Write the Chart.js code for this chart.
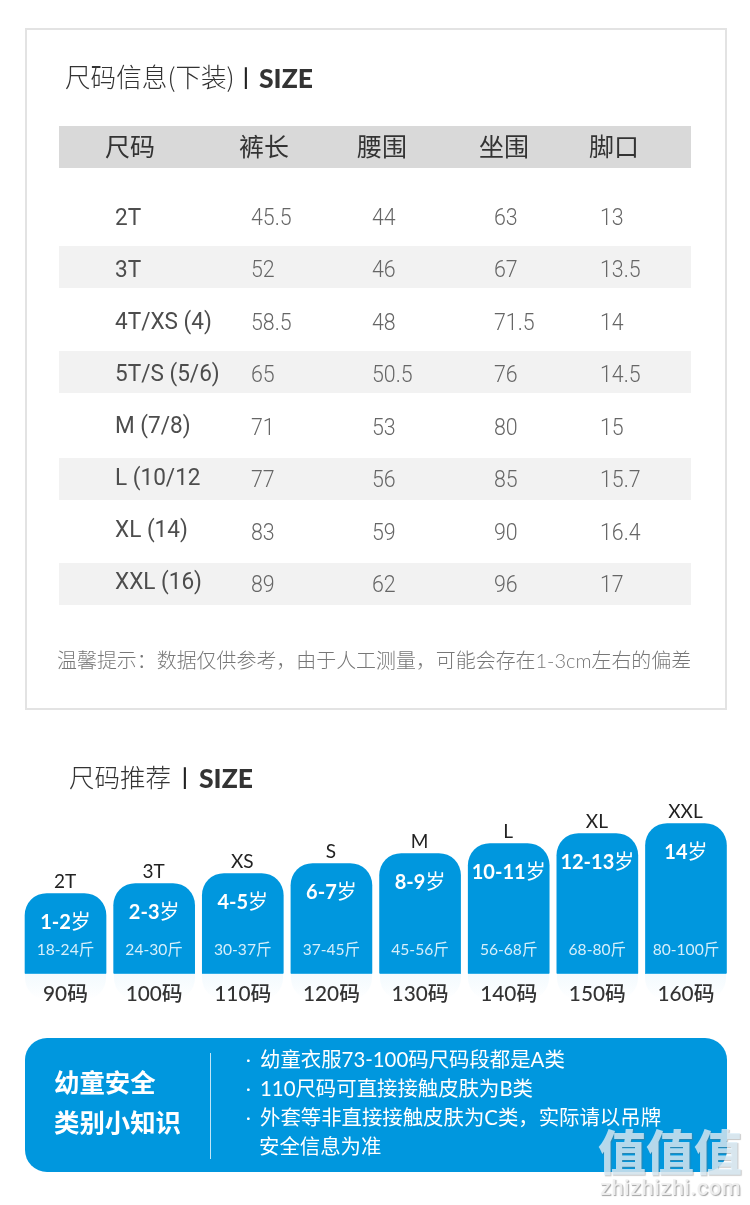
<!DOCTYPE html>
<html lang="zh"><head><meta charset="utf-8">
<script src="https://cdn.jsdelivr.net/npm/chart.js@4"></script>
<style>
html,body{margin:0;padding:0;background:#fff;width:750px;height:1205px;overflow:hidden}
body{position:relative;font-family:Lato,'Noto Sans CJK SC',sans-serif}
canvas{position:absolute;left:0;top:0}
.t{position:absolute;white-space:pre;line-height:1;transform-origin:0 50%}
.c{transform:translate(-50%,-50%)}
.l{transform:translateY(-50%)}
.box{position:absolute;left:25px;top:28px;width:698px;height:678px;border:2px solid #e3e3e3}
.band{position:absolute;left:59px;width:632px;height:42px;background:#f2f2f2}
.info{position:absolute;left:25px;top:1038px;width:702px;height:134px;border-radius:22px;background:#0097de}
.glow{position:absolute;top:973px;height:27px;border-top:1px solid #5fc3f0;background:linear-gradient(#f3fafe,#fff);border-radius:0 0 22px 22px;box-sizing:border-box}
.a{font-weight:400}
</style></head><body>
<div class="box"></div>
<div class="band" style="top:126px;background:#d9d9d9"></div>
<div class="band" style="top:246px"></div>
<div class="band" style="top:351px"></div>
<div class="band" style="top:458px"></div>
<div class="band" style="top:563px"></div>
<div class="info"></div>
<div id="glows"></div>
<canvas id="c" width="750" height="1205"></canvas>
<div id="txt"></div>
<script>
// table data
const tableHead = ['尺码','裤长','腰围','坐围','脚口'];
const tableSizes = ['2T','3T','4T/XS (4)','5T/S (5/6)','M (7/8)','L (10/12','XL (14)','XXL (16)'];
const inseam = ['45.5','52','58.5','65','71','77','83','89'];
const waist = ['44','46','48','50.5','53','56','59','62'];
const hip = ['63','67','71.5','76','80','85','90','96'];
const cuff = ['13','13.5','14','14.5','15','15.7','16.4','17'];
// recommendation chart data
const heightLabels = ['90码','100码','110码','120码','130码','140码','150码','160码'];
const heightValues = [90,100,110,120,130,140,150,160];
const sizeLabels = ['2T','3T','XS','S','M','L','XL','XXL'];
const ageLabels = ['1-2','2-3','4-5','6-7','8-9','10-11','12-13','14'];
const weightLabels = ['18-24斤','24-30斤','30-37斤','37-45斤','45-56斤','56-68斤','68-80斤','80-100斤'];
const tipLines = ['幼童衣服73-100码尺码段都是A类','110尺码可直接接触皮肤为B类','外套等非直接接触皮肤为C类\uFF0C实际请以吊牌','安全信息为准'];
const noteText = '温馨提示\uFF1A数据仅供参考\uFF0C由于人工测量\uFF0C可能会存在1-3cm左右的偏差';

const txt = document.getElementById('txt');
function put(s,x,y,st,cls){
  const e=document.createElement('div');
  e.className='t '+(cls||'l');
  e.textContent=s;
  e.style.left=x+'px';e.style.top=y+'px';
  Object.assign(e.style,st||{});
  txt.appendChild(e);return e;
}
const CJK="'Noto Sans CJK SC'";
// titles
put('尺码信息(下装)',65,76,{fontSize:'25.6px',color:'#333',fontFamily:CJK,fontWeight:300});
put('|',243,77,{fontSize:'22px',color:'#222',fontWeight:700});
put('SIZE',259,77.5,{fontSize:'26.5px',color:'#333',fontWeight:900});
put('尺码推荐',69,776,{fontSize:'25.5px',color:'#333',fontFamily:CJK,fontWeight:300});
put('|',182,777,{fontSize:'22px',color:'#222',fontWeight:700});
put('SIZE',199,777.5,{fontSize:'26.5px',color:'#333',fontWeight:900});
// table header
[130,264,382,504,614].forEach((x,i)=>put(tableHead[i],x,145,{fontSize:'25px',color:'#333',fontFamily:CJK,fontWeight:400},'c'));
// table rows
const labelY=[217,269,321,373,425,477,529,581];
const numY=[217,269,322,374,427,479,532,584];
const colX=[251,372,494,600];
const narrow=(e,k)=>{e.style.transform='translateY(-50%) scaleX('+k+')';return e;};
tableSizes.forEach((s,i)=>{
  narrow(put(s,115,labelY[i],{fontSize:'24px',color:'#4d4d4d',fontFamily:'Roboto',fontWeight:400}),.94);
  [inseam,waist,hip,cuff].forEach((col,j)=>narrow(put(col[i],colX[j],numY[i],{fontSize:'24px',color:'#666',fontFamily:'Roboto',fontWeight:300}),.89));
});
put(noteText,57,661,{fontSize:'19.95px',color:'#777',fontFamily:"Lato,"+CJK,fontWeight:300});
// info box
put('幼童安全',54,1082,{fontSize:'25.4px',color:'#fff',fontFamily:CJK,fontWeight:700});
put('类别小知识',54,1122,{fontSize:'25.4px',color:'#fff',fontFamily:CJK,fontWeight:700});
const dv=document.createElement('div');dv.style.cssText='position:absolute;left:210px;top:1053px;width:1px;height:106px;background:#bfe6f8';document.body.appendChild(dv);
[1059,1088,1117,1146].forEach((y,i)=>{
  if(i<3) put('·',246,y,{fontSize:'18px',color:'#fff',fontWeight:400});
  put(tipLines[i],i==3?259:260,y,{fontSize:'20.4px',color:'#fff',fontFamily:"Lato,"+CJK,fontWeight:400});
});
// watermark
put('值值值',598,1149,{fontSize:'48px',color:'rgba(222,240,250,.78)',fontFamily:CJK,fontWeight:900,textShadow:'1px 1px 1px rgba(110,110,110,.4)'});
put('zhizhizhi.com',600,1188,{fontSize:'22px',color:'rgba(240,240,240,.95)',fontFamily:'Roboto',fontWeight:500,letterSpacing:'.4px',textShadow:'1px 1px 1px rgba(90,90,90,.55)'});

const chart = new Chart(document.getElementById('c'),{
  type:'bar',
  data:{labels:heightLabels,datasets:[{data:heightValues,backgroundColor:'#0097de',barThickness:81,
    borderRadius:{topLeft:22,topRight:22,bottomLeft:0,bottomRight:0},borderSkipped:false}]},
  options:{
    responsive:false,animation:false,devicePixelRatio:1,
    layout:{padding:{left:21.2,right:19.7,top:813.5,bottom:191.5}},
    plugins:{legend:{display:false},tooltip:{enabled:false},title:{display:false}},
    scales:{
      x:{grid:{display:false,drawTicks:false},border:{display:false},
         afterFit(s){s.height=40;},
         ticks:{autoSkip:false,maxRotation:0,padding:8,color:'#333',font:{family:"Lato,"+CJK,size:20.8,weight:'500'}}},
      y:{display:false,min:10,max:170}
    }
  }
});
// labels positioned through the chart's scales
const glows=document.getElementById('glows');
heightValues.forEach((v,i)=>{
  const x=chart.scales.x.getPixelForValue(i), top=chart.scales.y.getPixelForValue(v);
  put(sizeLabels[i],x-0.5,top-14,{fontSize:'19px',color:'#222',fontWeight:400},'c');
  const a=put(ageLabels[i],x,top+27,{fontSize:'20px',color:'#fff',fontWeight:700,fontFamily:"Lato,"+CJK},'c');
  const sp=document.createElement('span');sp.className='a';sp.textContent='岁';a.appendChild(sp);
  put(weightLabels[i],x,950,{fontSize:'15.6px',color:'#d5effb',fontWeight:400,fontFamily:"Lato,"+CJK},'c');
  const g=document.createElement('div');g.className='glow';g.style.left=(x-40.5)+'px';g.style.width='81px';glows.appendChild(g);
});
</script></body></html>
